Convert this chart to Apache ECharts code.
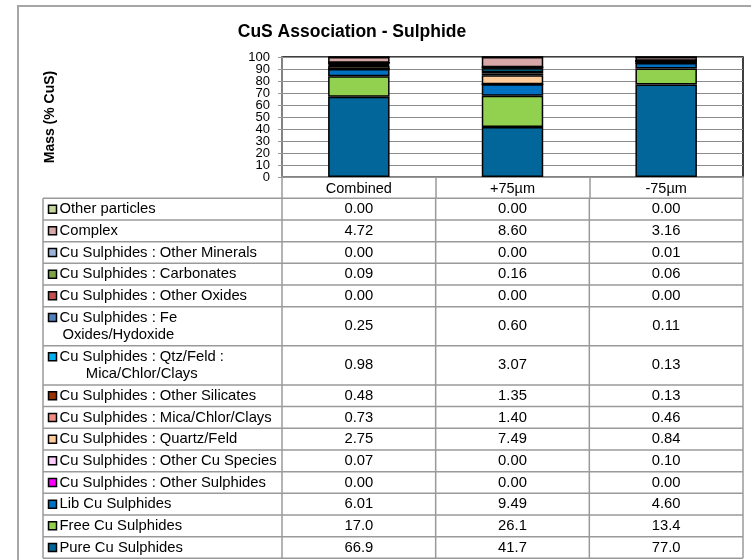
<!DOCTYPE html>
<html>
<head>
<meta charset="utf-8">
<script src="https://cdn.jsdelivr.net/npm/echarts@6/dist/echarts.min.js"></script>
<style>
html,body{margin:0;padding:0;background:#fff;}
#chart{width:751px;height:560px;}
</style>
</head>
<body>
<div id="chart"></div>
<script>
// ---- data ----
const categories = ['Combined', '+75\u00b5m', '-75\u00b5m'];
const yTicks = [0, 100, 10]; // min, max, interval

// series, bottom of the stack first
const pureCuSulphides   = [66.9, 41.7, 77.0];
const freeCuSulphides   = [17.0, 26.1, 13.4];
const libCuSulphides    = [6.01, 9.49, 4.60];
const otherSulphides    = [0.00, 0.00, 0.00];
const otherCuSpecies    = [0.07, 0.00, 0.10];
const quartzFeld        = [2.75, 7.49, 0.84];
const micaChlorClays    = [0.73, 1.40, 0.46];
const otherSilicates    = [0.48, 1.35, 0.13];
const qtzFeldMicaClays  = [0.98, 3.07, 0.13];
const feOxides          = [0.25, 0.60, 0.11];
const otherOxides       = [0.00, 0.00, 0.00];
const carbonates        = [0.09, 0.16, 0.06];
const otherMinerals     = [0.00, 0.00, 0.01];
const complexPart       = [4.72, 8.60, 3.16];
const otherParticles    = [0.00, 0.00, 0.00];

const seriesNames = [
  'Pure Cu Sulphides', 'Free Cu Sulphides', 'Lib Cu Sulphides',
  'Cu Sulphides : Other Sulphides', 'Cu Sulphides : Other Cu Species',
  'Cu Sulphides : Quartz/Feld', 'Cu Sulphides : Mica/Chlor/Clays',
  'Cu Sulphides : Other Silicates', 'Cu Sulphides : Qtz/Feld :\nMica/Chlor/Clays',
  'Cu Sulphides : Fe\nOxides/Hydoxide', 'Cu Sulphides : Other Oxides',
  'Cu Sulphides : Carbonates', 'Cu Sulphides : Other Minerals',
  'Complex', 'Other particles'
];
const seriesValues = [
  pureCuSulphides, freeCuSulphides, libCuSulphides, otherSulphides, otherCuSpecies,
  quartzFeld, micaChlorClays, otherSilicates, qtzFeldMicaClays, feOxides,
  otherOxides, carbonates, otherMinerals, complexPart, otherParticles
];

// ---- styles ----
const seriesColors = [
  '#03669A', '#92D050', '#0070C0', '#FF00FF', '#FFCCFF',
  '#FFCC99', '#F28B82', '#993300', '#00B0F0', '#4F81BD',
  '#C0504D', '#7DA544', '#9BB3D6', '#D8A8A8', '#C4D79B'
];
const FONT = '"Liberation Sans", Arial, sans-serif';
const gridLeft = 282, gridTop = 57, gridRight = 743, gridBottom = 177;
const tableLeft = 43, tableTop = 198.3, singleH = 21.67, doubleH = 39.15, lineGap = 17.3;
const tableFontSize = 14.8;
const lineColor = '#9a9a9a';

function fmt(v) { return v >= 10 ? v.toFixed(1) : v.toFixed(2); }

const measureCtx = document.createElement('canvas').getContext('2d');
measureCtx.font = tableFontSize + 'px ' + FONT;

// ---- data table (graphic) ----
const colX = [tableLeft, gridLeft];
for (let i = 1; i <= categories.length; i++) colX.push(gridLeft + (gridRight - gridLeft) * i / categories.length);

const graphics = [];
graphics.push({ type: 'rect', shape: { x: 18, y: 6, width: 800, height: 700 },
  style: { fill: 'none', stroke: '#a6a6a6', lineWidth: 2 }, z: 0, silent: true });

let y = tableTop;
for (let r = seriesNames.length - 1; r >= 0; r--) {
  const label = seriesNames[r];
  const lines = label.split('\n');
  const h = lines.length > 1 ? doubleH : singleH;
  const cy = y + h / 2;
  graphics.push({ type: 'line', shape: { x1: tableLeft, y1: y, x2: gridRight, y2: y },
    style: { stroke: lineColor, lineWidth: 1.5 }, silent: true });
  let keyY = cy;
  if (lines.length === 1) {
    graphics.push({ type: 'text', x: 59.5, y: cy,
      style: { text: label, font: tableFontSize + 'px ' + FONT, fill: '#000', align: 'left', verticalAlign: 'middle' } });
  } else {
    const w = measureCtx.measureText(lines[0]).width;
    const cx = 59.5 + w / 2;
    lines.forEach((ln, i) => {
      const ly = cy + (i - (lines.length - 1) / 2) * lineGap;
      if (i === 0) keyY = ly;
      graphics.push({ type: 'text', x: cx, y: ly,
        style: { text: ln, font: tableFontSize + 'px ' + FONT, fill: '#000', align: 'center', verticalAlign: 'middle' } });
    });
  }
  graphics.push({ type: 'rect', shape: { x: 48.5, y: keyY - 4, width: 8, height: 8 },
    style: { fill: seriesColors[r], stroke: '#000', lineWidth: 1.5 } });
  seriesValues[r].forEach((v, c) => {
    graphics.push({ type: 'text', x: (colX[c + 1] + colX[c + 2]) / 2, y: cy,
      style: { text: fmt(v), font: tableFontSize + 'px ' + FONT, fill: '#000', align: 'center', verticalAlign: 'middle' } });
  });
  y += h;
}
graphics.push({ type: 'line', shape: { x1: tableLeft, y1: y, x2: gridRight, y2: y },
  style: { stroke: lineColor, lineWidth: 1.5 }, silent: true });
colX.forEach(x => {
  graphics.push({ type: 'line', shape: { x1: x, y1: tableTop, x2: x, y2: y },
    style: { stroke: lineColor, lineWidth: 1.5 }, silent: true });
});

// ---- chart ----
const yLabelStyle = { fontFamily: FONT, fontSize: 13, color: '#000', margin: 12,
                      showMinLabel: true, showMaxLabel: true, hideOverlap: false };
const chart = echarts.init(document.getElementById('chart'), null, { renderer: 'canvas' });
chart.setOption({
  animation: false,
  backgroundColor: '#fff',
  title: {
    text: 'CuS Association - Sulphide',
    left: 347, top: 18, textAlign: 'center',
    textStyle: { fontFamily: FONT, fontSize: 17.5, fontWeight: 'bold', color: '#000' }
  },
  grid: {
    left: gridLeft, top: gridTop, width: gridRight - gridLeft, height: gridBottom - gridTop,
    show: true, borderColor: '#000', borderWidth: 1.5, containLabel: false
  },
  xAxis: {
    type: 'category',
    data: categories,
    axisLine: { lineStyle: { color: lineColor, width: 1.5 } },
    axisTick: { show: true, length: 21, lineStyle: { color: lineColor, width: 1.5 } },
    axisLabel: { fontFamily: FONT, fontSize: 14.5, color: '#000', margin: 4 },
    splitLine: { show: false }
  },
  yAxis: [{
    type: 'value',
    min: yTicks[0], max: yTicks[1], interval: yTicks[2],
    name: 'Mass (% CuS)',
    nameLocation: 'middle',
    nameGap: 225,
    nameTextStyle: { fontFamily: FONT, fontSize: 14, fontWeight: 'bold', color: '#000' },
    axisLine: { show: true, lineStyle: { color: lineColor, width: 1.5 } },
    axisTick: { show: true, length: 4, lineStyle: { color: lineColor } },
    axisLabel: Object.assign({}, yLabelStyle, {
      formatter: v => (v % (2 * yTicks[2]) === 0 ? String(v) : '') }),
    splitLine: { show: true, lineStyle: { color: '#8c8c8c', width: 1.2 } }
  }, {
    type: 'value',
    position: 'left',
    min: yTicks[0], max: yTicks[1], interval: yTicks[2],
    axisLine: { show: false },
    axisTick: { show: false },
    splitLine: { show: false },
    axisLabel: Object.assign({}, yLabelStyle, {
      formatter: v => (v % (2 * yTicks[2]) !== 0 ? String(v) : '') })
  }],
  series: seriesNames.map((name, i) => ({
    name: name.replace('\n', ' '),
    type: 'bar',
    stack: 'total',
    barWidth: '40%',
    data: seriesValues[i],
    itemStyle: { color: seriesColors[i], borderColor: '#000', borderWidth: 1.5 }
  })),
  graphic: graphics
});
</script>
</body>
</html>
